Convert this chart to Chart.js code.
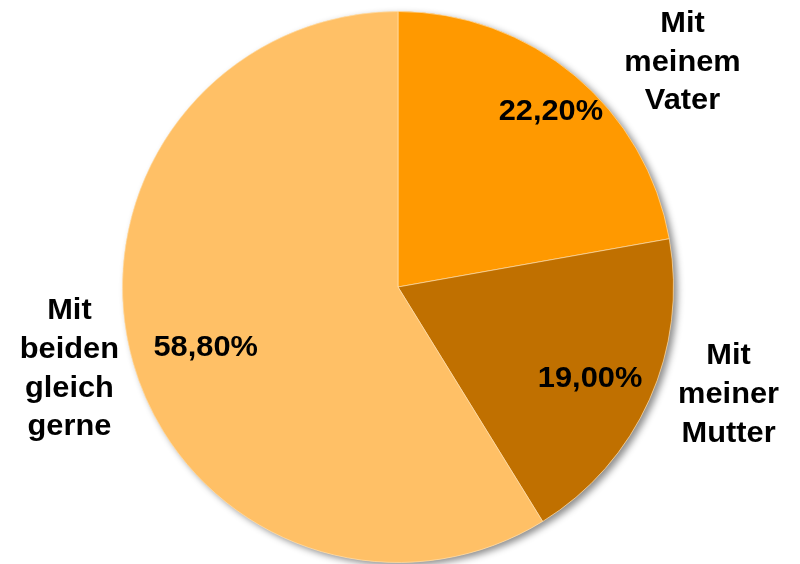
<!DOCTYPE html>
<html>
<head>
<meta charset="utf-8">
<script src="https://cdn.jsdelivr.net/npm/chart.js@4"></script>
<style>
html,body{margin:0;padding:0;background:#fff;}
#wrap{width:800px;height:564px;position:relative;}
</style>
</head>
<body>
<div id="wrap"><canvas id="c" width="800" height="564"></canvas></div>
<script>
const categories = [["Mit", "meinem", "Vater"], ["Mit", "meiner", "Mutter"], ["Mit", "beiden", "gleich", "gerne"]];
const values = [22.2, 19.0, 58.8];
const valueLabels = ["22,20%", "19,00%", "58,80%"];

const colors = ["#FF9900", "#C07000", "#FFC066"];
// label placement style: [radius factor, angle offset in degrees] relative to slice middle
const pctPlace = [[0.85, 0.8], [0.77, 1.0], [0.73, -1.2]];
const catPlace = [[1.3198, 11.53], [1.2604, -6.31], [1.2277, 2.13]];

const FONT = 'bold 29px "Liberation Sans", Arial, sans-serif';
const XSCALE = 1.062;
const DY = 2;

const shadowPlugin = {
  id: 'shadow',
  beforeDatasetsDraw(chart) {
    const arc = chart.getDatasetMeta(0).data[0];
    if (!arc) return;
    const ctx = chart.ctx;
    ctx.save();
    ctx.shadowColor = 'rgba(0,0,0,0.45)';
    ctx.shadowBlur = 7;
    ctx.shadowOffsetX = 4;
    ctx.shadowOffsetY = 3;
    ctx.fillStyle = '#FFC066';
    ctx.beginPath();
    ctx.arc(arc.x, arc.y, arc.outerRadius, 0, Math.PI * 2);
    ctx.fill();
    ctx.restore();
  }
};

function drawText(ctx, t, x, y) {
  ctx.save();
  ctx.translate(x, y + DY);
  ctx.scale(XSCALE, 1);
  ctx.fillText(t, 0, 0);
  ctx.restore();
}

const labelPlugin = {
  id: 'labels',
  afterDatasetsDraw(chart) {
    const ctx = chart.ctx;
    const meta = chart.getDatasetMeta(0);
    ctx.save();
    ctx.font = FONT;
    ctx.fillStyle = '#000';
    ctx.textAlign = 'center';
    ctx.textBaseline = 'middle';
    meta.data.forEach((arc, i) => {
      const mid = (arc.startAngle + arc.endAngle) / 2;
      const r = arc.outerRadius;
      let a = mid + pctPlace[i][1] * Math.PI / 180;
      let rr = r * pctPlace[i][0];
      drawText(ctx, valueLabels[i], arc.x + Math.cos(a) * rr, arc.y + Math.sin(a) * rr);
      a = mid + catPlace[i][1] * Math.PI / 180;
      rr = r * catPlace[i][0];
      const cx = arc.x + Math.cos(a) * rr;
      const cy = arc.y + Math.sin(a) * rr;
      const lines = categories[i];
      const lh = 38.8;
      lines.forEach((t, j) => {
        drawText(ctx, t, cx, cy + (j - (lines.length - 1) / 2) * lh);
      });
    });
    ctx.restore();
  }
};

new Chart(document.getElementById('c'), {
  type: 'pie',
  data: {
    labels: categories.map(c => c.join(' ')),
    datasets: [{
      data: values,
      backgroundColor: colors,
      borderColor: 'rgba(255,230,190,0.6)',
      borderWidth: 1
    }]
  },
  options: {
    responsive: false,
    animation: false,
    layout: { padding: { top: 11, bottom: 1, left: 122, right: 126 } },
    plugins: { legend: { display: false }, tooltip: { enabled: false } }
  },
  plugins: [shadowPlugin, labelPlugin]
});
</script>
</body>
</html>
